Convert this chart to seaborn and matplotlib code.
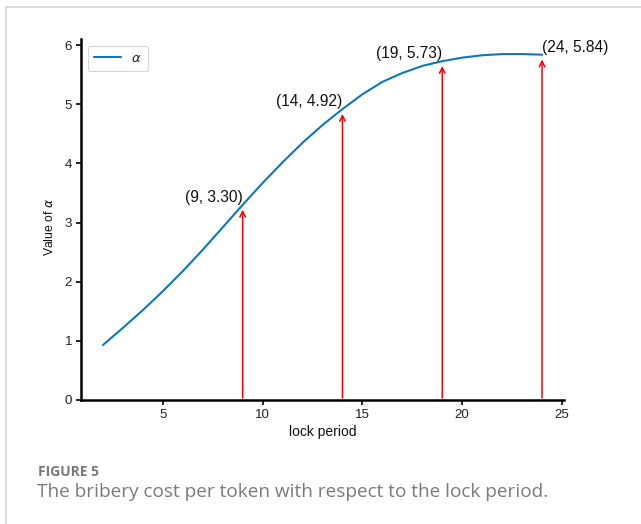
import matplotlib
matplotlib.use("Agg")
import matplotlib.pyplot as plt
from matplotlib.patches import Rectangle
import pandas as pd
import seaborn as sns

# Bribery cost per token (alpha) as a function of the lock period
lock_period = list(range(2, 25))
alpha = [0.93, 1.22, 1.52, 1.84, 2.18, 2.54, 2.92, 3.30, 3.67, 4.02, 4.35,
         4.65, 4.92, 5.17, 5.38, 5.53, 5.65, 5.73, 5.79, 5.83, 5.85, 5.85, 5.84]

# Highlighted lock periods with their alpha values
marked_period = [9, 14, 19, 24]
marked_alpha = [3.30, 4.92, 5.73, 5.84]
marked_align = ["right", "right", "right", "left"]

x_ticks = [5, 10, 15, 20, 25]
y_ticks = [0, 1, 2, 3, 4, 5, 6]

caption_head = "FIGURE 5"
caption_text = "The bribery cost per token with respect to the lock period."

sns.set_style("ticks")
plt.rcParams["font.family"] = ["Liberation Sans", "DejaVu Sans"]
plt.rcParams["mathtext.fontset"] = "dejavusans"

df = pd.DataFrame({"lock period": lock_period, "alpha": alpha})

fig = plt.figure(figsize=(6.41, 5.24), dpi=100)
fig.patch.set_facecolor("white")
# light panel frame around the figure
fig.patches.append(Rectangle((6 / 641, -0.05), 1.2, 1 - 7 / 524 + 0.05,
                             transform=fig.transFigure, fill=False,
                             edgecolor="#d6d6d6", linewidth=1.2))

ax = fig.add_axes([81 / 641, 1 - 400 / 524, 483 / 641, (400 - 39.3) / 524])

sns.lineplot(data=df, x="lock period", y="alpha", ax=ax, color="#0a78bd",
             linewidth=1.5, label=r"$\alpha$")

for x, y, ha in zip(marked_period, marked_alpha, marked_align):
    ax.annotate("", xy=(x, y), xytext=(x, 0),
                arrowprops=dict(arrowstyle="->", color="red", lw=1.1,
                                shrinkA=1.5, shrinkB=3.5))
    ax.text(x, y, f"({x}, {y:.2f})", ha=ha, va="bottom", fontsize=11.2,
            color="#111111")

ax.set_xlim(0.9, 25.1)
ax.set_ylim(0, 6.1)
ax.set_xticks(x_ticks)
ax.set_yticks(y_ticks)
ax.tick_params(axis="both", labelsize=9.6, length=3.5, width=1.2,
               colors="black", labelcolor="#222222", pad=3)
for s in ("left", "bottom"):
    ax.spines[s].set_linewidth(1.8)
    ax.spines[s].set_color("black")
sns.despine(ax=ax)

ax.set_xlabel("lock period", fontsize=10, color="#111111", labelpad=3)
ax.set_ylabel(r"Value of $\alpha$", fontsize=8.8, color="#111111")
ax.yaxis.set_label_coords(-0.052, 0.48)

leg = ax.legend(loc="upper left", fontsize=9.5, frameon=True,
                handlelength=2.0, borderpad=0.5)
leg.get_frame().set_edgecolor("#cccccc")
leg.get_frame().set_linewidth(0.8)

fig.text(38 / 641, 1 - 472 / 524, caption_head, fontsize=10,
         fontweight="bold", color="#7a7a7a", family="Open Sans",
         va="center", ha="left")
fig.text(37 / 641, 1 - 492 / 524, caption_text, fontsize=13.7,
         color="#7a7a7a", family="Open Sans", va="center", ha="left")

fig.savefig("out.png", dpi=100, facecolor="white")
